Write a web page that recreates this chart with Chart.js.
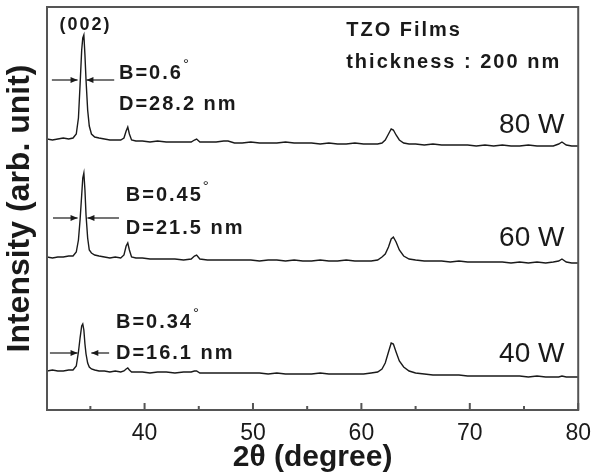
<!DOCTYPE html>
<html lang="en">
<head>
<meta charset="UTF-8">
<title>TZO films XRD</title>
<script src="https://cdn.jsdelivr.net/npm/chart.js@4.4.0/dist/chart.umd.min.js"></script>
<style>
  body { margin: 0; background: #fff; }
  #wrap { width: 601px; height: 476px; }
</style>
</head>
<body>
<div id="wrap"><canvas id="xrd" width="601" height="476"></canvas></div>
<script>
// 2theta grid (denser around the peaks)
const twoTheta = [
  31, 31.5, 32, 32.5, 33, 33.4, 33.7, 33.9, 34.05, 34.2,
  34.3, 34.4, 34.5, 34.6, 34.75, 34.9, 35.1, 35.4, 35.8, 36.3,
  36.8, 37.3, 37.8, 38.1, 38.3, 38.45, 38.6, 38.8, 39.2, 39.8,
  40.5, 41.2, 42, 42.8, 43.6, 44.3, 44.6, 44.8, 45.1, 45.8,
  46.6, 47.3, 47.7, 48.3, 49, 49.8, 50.6, 51.4, 52.2, 53,
  53.8, 54.6, 55.4, 56.2, 57, 57.8, 58.6, 59.4, 60.2, 60.9,
  61.5, 61.9, 62.2, 62.5, 62.75, 62.95, 63.2, 63.5, 63.9, 64.4,
  65, 65.8, 66.6, 67.4, 68.2, 69, 69.8, 70.6, 71.4, 72.2,
  73, 73.8, 74.6, 75.4, 76.2, 77, 77.7, 78.2, 78.5, 78.9,
  79.4, 80
];

// stacked intensities (arb. unit), offset per sample
const w80 = [
  271, 270, 271, 272, 271, 272, 276, 292, 325, 360,
  372, 375, 355, 330, 300, 284, 276, 273, 272, 271,
  270, 270, 270, 272, 279, 283, 276, 270, 269, 269,
  268, 269, 268, 268, 268, 268, 270, 271, 268, 268,
  268, 269, 269, 267, 267, 268, 267, 267, 267, 268,
  267, 267, 267, 266, 267, 266, 266, 267, 266, 266,
  266, 267, 270, 276, 281, 280, 275, 270, 267, 266,
  266, 265, 266, 265, 265, 265, 265, 264, 265, 264,
  265, 264, 264, 265, 264, 264, 264, 266, 268, 265,
  264, 264
];
const w60 = [
  153, 152, 153, 153, 154, 154, 158, 170, 190, 215,
  232, 237, 220, 195, 172, 160, 157, 155, 154, 153,
  152, 153, 152, 155, 164, 167, 160, 153, 152, 152,
  151, 151, 151, 151, 150, 151, 154, 155, 151, 150,
  150, 150, 150, 150, 150, 150, 149, 150, 150, 149,
  150, 149, 149, 150, 149, 149, 150, 149, 149, 149,
  150, 153, 156, 163, 171, 173, 168, 160, 154, 151,
  150, 149, 149, 149, 148, 149, 148, 148, 148, 148,
  148, 147, 148, 147, 148, 147, 148, 149, 151, 148,
  147, 147
];
const w40 = [
  39, 40, 39, 39, 40, 40, 44, 58, 72, 84,
  86, 80, 66, 56, 47, 43, 41, 40, 39, 39,
  38, 39, 38, 39, 41, 42, 40, 38, 38, 38,
  37, 38, 38, 37, 38, 38, 39, 39, 37, 37,
  37, 37, 37, 37, 37, 37, 37, 36, 37, 36,
  36, 36, 36, 37, 36, 36, 36, 36, 36, 37,
  38, 41, 47, 58, 67, 66, 58, 49, 43, 39,
  37, 36, 35, 35, 35, 35, 34, 34, 34, 34,
  34, 34, 34, 33, 34, 33, 33, 33, 34, 33,
  33, 33
];

const xTicks = [40, 50, 60, 70, 80];
const minorTicks = [35, 45, 55, 65, 75];
const powerLabels = ['80 W', '60 W', '40 W'];
const peakNotes = [
  ['B=0.6', 'D=28.2 nm'],
  ['B=0.45', 'D=21.5 nm'],
  ['B=0.34', 'D=16.1 nm']
];

// where the annotations sit, in data coordinates
const powerPos = [[78.73, 285], [78.73, 172], [78.73, 56]];
const notePos = [[37.64, 337, 306], [38.27, 215, 182], [37.36, 88, 57]];
const arrowPos = [
  [330, 31.45, 33.82, 37.2, 34.64],
  [192, 31.55, 33.82, 37.64, 34.73],
  [57, 31.27, 33.82, 36.73, 35.09]
];

const FONT = 'Arial, "Liberation Sans", sans-serif';
const INK = '#1a1a1a';

function pts(ys) {
  return twoTheta.map((x, i) => ({ x: x, y: ys[i] }));
}

function arrow(ctx, xs, ys, y, tail, tip) {
  const py = ys.getPixelForValue(y);
  const x0 = xs.getPixelForValue(tail), x1 = xs.getPixelForValue(tip);
  const d = x1 > x0 ? 1 : -1;
  ctx.beginPath();
  ctx.moveTo(x0, py);
  ctx.lineTo(x1, py);
  ctx.stroke();
  ctx.beginPath();
  ctx.moveTo(x1, py);
  ctx.lineTo(x1 - d * 7, py - 3);
  ctx.lineTo(x1 - d * 7, py + 3);
  ctx.closePath();
  ctx.fill();
}

const decor = {
  id: 'decor',
  afterDraw(chart) {
    const ctx = chart.ctx, a = chart.chartArea;
    const xs = chart.scales.x, ys = chart.scales.y;
    ctx.save();

    // frame
    ctx.strokeStyle = '#555';
    ctx.lineWidth = 2;
    ctx.strokeRect(a.left, a.top, a.right - a.left, a.bottom - a.top);

    // inward ticks on the bottom axis
    ctx.beginPath();
    xTicks.forEach(v => {
      const px = xs.getPixelForValue(v);
      ctx.moveTo(px, a.bottom);
      ctx.lineTo(px, a.bottom - 7);
    });
    minorTicks.forEach(v => {
      const px = xs.getPixelForValue(v);
      ctx.moveTo(px, a.bottom);
      ctx.lineTo(px, a.bottom - 4);
    });
    ctx.stroke();

    ctx.fillStyle = INK;
    ctx.strokeStyle = INK;
    ctx.lineWidth = 1.2;
    ctx.textBaseline = 'middle';

    // FWHM arrows
    arrowPos.forEach(p => {
      arrow(ctx, xs, ys, p[0], p[1], p[2]);
      arrow(ctx, xs, ys, p[0], p[3], p[4]);
    });

    // (002)
    ctx.font = 'bold 18px ' + FONT;
    ctx.letterSpacing = '2px';
    ctx.textAlign = 'center';
    ctx.fillText('(002)', xs.getPixelForValue(34.55), ys.getPixelForValue(385));

    // B / D notes
    ctx.textAlign = 'left';
    peakNotes.forEach((n, i) => {
      const px = xs.getPixelForValue(notePos[i][0]);
      const pyB = ys.getPixelForValue(notePos[i][1]);
      const pyD = ys.getPixelForValue(notePos[i][2]);
      ctx.font = 'bold 20px ' + FONT;
      ctx.letterSpacing = '2px';
      ctx.fillText(n[0], px, pyB);
      const w = ctx.measureText(n[0]).width;
      ctx.fillText(n[1], px, pyD);
      ctx.font = '15px ' + FONT;
      ctx.letterSpacing = '0px';
      ctx.fillText('°', px + w, pyB - 8);
    });

    // sample info
    ctx.font = 'bold 20px ' + FONT;
    ctx.letterSpacing = '2px';
    ctx.fillText('TZO Films', xs.getPixelForValue(58.6), ys.getPixelForValue(380));
    ctx.fillText('thickness : 200 nm', xs.getPixelForValue(58.6), ys.getPixelForValue(348));

    // power labels
    ctx.font = '28px ' + FONT;
    ctx.letterSpacing = '0px';
    ctx.textAlign = 'right';
    powerLabels.forEach((t, i) => {
      ctx.fillText(t, xs.getPixelForValue(powerPos[i][0]), ys.getPixelForValue(powerPos[i][1]));
    });

    ctx.restore();
  }
};

const lineStyle = {
  borderColor: INK,
  borderWidth: 1.4,
  pointRadius: 0,
  tension: 0,
  fill: false
};

new Chart(document.getElementById('xrd'), {
  type: 'line',
  data: {
    datasets: [
      Object.assign({ label: '80 W', data: pts(w80) }, lineStyle),
      Object.assign({ label: '60 W', data: pts(w60) }, lineStyle),
      Object.assign({ label: '40 W', data: pts(w40) }, lineStyle)
    ]
  },
  options: {
    responsive: false,
    animation: false,
    layout: { padding: { top: 7, right: 14, bottom: 0, left: 0 } },
    plugins: {
      legend: { display: false },
      tooltip: { enabled: false }
    },
    scales: {
      x: {
        type: 'linear',
        min: 31,
        max: 80,
        afterBuildTicks: s => { s.ticks = xTicks.map(v => ({ value: v })); },
        afterFit: s => { s.height = 66; },
        grid: { display: false, drawTicks: false },
        border: { display: false },
        ticks: {
          color: INK,
          padding: 10,
          maxRotation: 0,
          font: { family: FONT, size: 23 }
        },
        title: {
          display: true,
          text: '2θ (degree)',
          color: INK,
          padding: { top: 0, bottom: 0 },
          font: { family: FONT, size: 30, weight: 'bold' }
        }
      },
      y: {
        min: 0,
        max: 403,
        afterFit: s => { s.width = 47; },
        grid: { display: false, drawTicks: false },
        border: { display: false },
        ticks: { display: false },
        title: {
          display: true,
          text: 'Intensity (arb. unit)',
          color: INK,
          padding: { top: 1, bottom: 0 },
          font: { family: FONT, size: 32, weight: 'bold' }
        }
      }
    }
  },
  plugins: [decor]
});
</script>
</body>
</html>
